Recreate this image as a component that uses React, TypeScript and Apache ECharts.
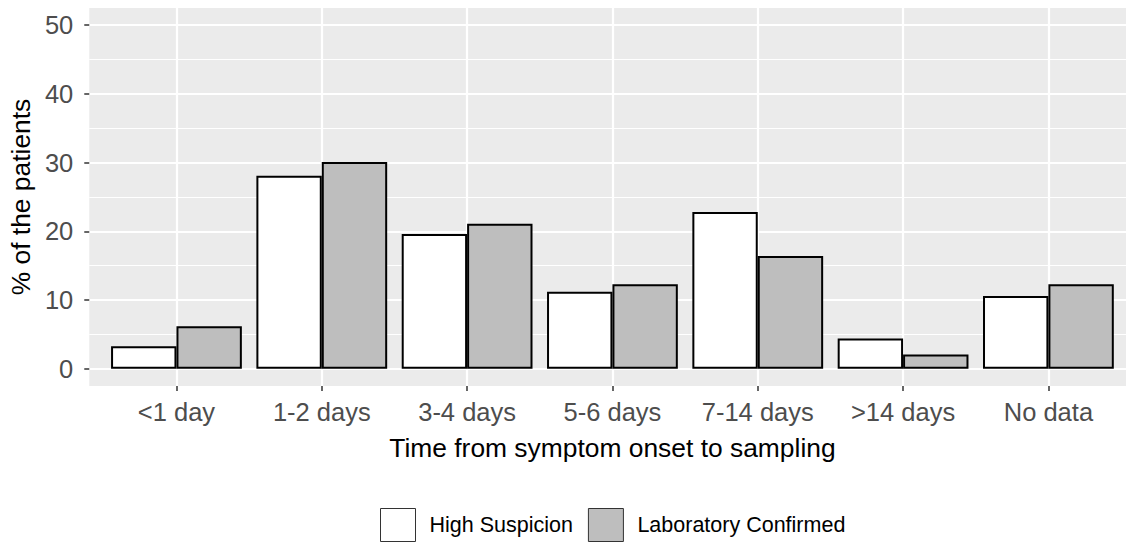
import React, { useEffect, useRef } from "react";
import * as echarts from "echarts";

const categories = ["<1 day", "1-2 days", "3-4 days", "5-6 days", "7-14 days", ">14 days", "No data"];
const highSuspicion = [3.3, 28.1, 19.6, 11.2, 22.8, 4.4, 10.6];
const labConfirmed = [6.2, 30.1, 21.1, 12.3, 16.4, 2.1, 12.3];
const yMajorTicks = [0, 10, 20, 30, 40, 50];
const yMinorTicks = [5, 15, 25, 35, 45];
const seriesNames = ["High Suspicion", "Laboratory Confirmed"];

export default function App() {
  const ref = useRef<HTMLDivElement>(null);
  useEffect(() => {
    if (!ref.current) return;
    const chart = echarts.init(ref.current, null, { renderer: "svg" });
    const xIdx = categories.map((_, i) => i);
    const font = "Liberation Sans";
    chart.setOption({
      animation: false,
      textStyle: { fontFamily: font },
      grid: {
        left: 82,
        top: 8,
        width: 1053.6,
        height: 378,
        show: true,
        backgroundColor: "#EBEBEB",
        borderWidth: 0,
      },
      legend: {
        data: seriesNames,
        left: 380,
        top: 508,
        padding: 0,
        icon: "rect",
        itemWidth: 35,
        itemHeight: 33,
        itemGap: 15,
        itemStyle: { borderColor: "#333333", borderWidth: 1 },
        textStyle: { fontSize: 21.5, color: "#000000", fontFamily: font, padding: [0, 0, 0, 9] },
      },
      xAxis: {
        type: "value",
        min: -0.6,
        max: 6.6,
        name: "Time from symptom onset to sampling",
        nameLocation: "middle",
        nameGap: 49,
        nameTextStyle: { fontSize: 26.4, color: "#000000", fontFamily: font },
        axisLine: { show: false, onZero: false },
        axisTick: { show: true, length: 5, lineStyle: { color: "#333333", width: 1.5 }, customValues: xIdx },
        axisLabel: {
          customValues: xIdx,
          formatter: (v: number) => categories[Math.round(v)] ?? "",
          fontSize: 25.5,
          color: "#4D4D4D",
          margin: 13,
          fontFamily: font,
        },
        splitLine: { show: true, lineStyle: { color: "#FFFFFF", width: 2.2 } },
      },
      yAxis: [
        {
          type: "value",
          min: -2.5,
          max: 52.5,
          name: "% of the patients",
          nameLocation: "middle",
          nameGap: 48,
          nameRotate: 90,
          nameTextStyle: { fontSize: 26.4, color: "#000000", fontFamily: font },
          axisLine: { show: false, onZero: false },
          axisTick: { show: true, length: 5, lineStyle: { color: "#333333", width: 1.5 }, customValues: yMajorTicks },
          axisLabel: { customValues: yMajorTicks, fontSize: 25.5, color: "#4D4D4D", margin: 16, fontFamily: font },
          splitLine: { show: true, lineStyle: { color: "#FFFFFF", width: 2.2 } },
        },
        {
          type: "value",
          min: -2.5,
          max: 52.5,
          position: "left",
          axisLine: { show: false, onZero: false },
          axisTick: { show: false, customValues: yMinorTicks },
          axisLabel: { show: false, customValues: yMinorTicks },
          splitLine: { show: true, lineStyle: { color: "#FFFFFF", width: 1.1 } },
        },
      ],
      series: [
        {
          name: seriesNames[0],
          type: "bar",
          data: highSuspicion.map((v, i) => [i, v]),
          barGap: "0%",
          barCategoryGap: "10%",
          itemStyle: { color: "#FFFFFF", borderColor: "#000000", borderWidth: 2 },
          z: 3,
        },
        {
          name: seriesNames[1],
          type: "bar",
          data: labConfirmed.map((v, i) => [i, v]),
          barGap: "0%",
          barCategoryGap: "10%",
          itemStyle: { color: "#BEBEBE", borderColor: "#000000", borderWidth: 2 },
          z: 3,
        },
      ],
    });
    return () => chart.dispose();
  }, []);
  return (
    <div style={{ position: "absolute", left: 0, top: 0, width: 1126, height: 546, overflow: "hidden" }}>
      <div ref={ref} style={{ width: 1140, height: 546 }} />
    </div>
  );
}
